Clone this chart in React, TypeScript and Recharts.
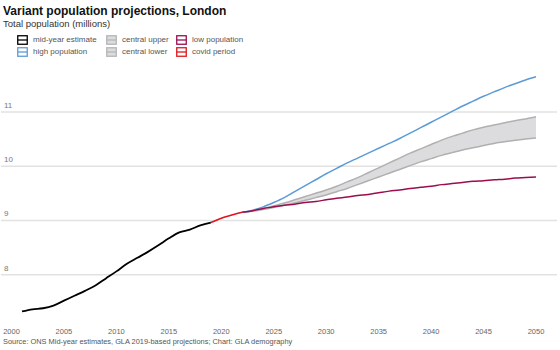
import React from "react";
import { ComposedChart, Line, Area, XAxis, YAxis, CartesianGrid } from "recharts";

const estimateYears = [2001, 2002, 2003, 2004, 2005, 2006, 2007, 2008, 2009, 2010, 2011, 2012, 2013, 2014, 2015, 2016, 2017, 2018, 2019];
const estimate = [7.32, 7.36, 7.38, 7.43, 7.52, 7.61, 7.7, 7.8, 7.93, 8.06, 8.2, 8.31, 8.42, 8.54, 8.67, 8.78, 8.83, 8.91, 8.96];

const covidYears = [2019, 2020, 2021, 2022];
const covid = [8.96, 9.04, 9.1, 9.15];

const projYears = [
  2022, 2023, 2024, 2025, 2026, 2027, 2028, 2029, 2030, 2031, 2032, 2033, 2034, 2035, 2036,
  2037, 2038, 2039, 2040, 2041, 2042, 2043, 2044, 2045, 2046, 2047, 2048, 2049, 2050,
];
const high = [
  9.15, 9.19, 9.25, 9.33, 9.42, 9.53, 9.64, 9.75, 9.86, 9.96, 10.06, 10.15, 10.24, 10.33, 10.42,
  10.51, 10.61, 10.71, 10.81, 10.91, 11.01, 11.11, 11.2, 11.29, 11.37, 11.45, 11.52, 11.59, 11.65,
];
const centralUpper = [
  9.15, 9.18, 9.22, 9.27, 9.32, 9.38, 9.44, 9.5, 9.56, 9.63, 9.71, 9.79, 9.88, 9.97, 10.06,
  10.15, 10.24, 10.32, 10.4, 10.48, 10.55, 10.61, 10.67, 10.72, 10.76, 10.8, 10.84, 10.87, 10.91,
];
const centralLower = [
  9.15, 9.17, 9.2, 9.24, 9.28, 9.32, 9.37, 9.42, 9.47, 9.53, 9.59, 9.66, 9.73, 9.8, 9.87,
  9.94, 10.01, 10.08, 10.14, 10.2, 10.25, 10.3, 10.34, 10.38, 10.42, 10.45, 10.48, 10.5, 10.52,
];
const low = [
  9.15, 9.18, 9.22, 9.25, 9.28, 9.3, 9.33, 9.35, 9.38, 9.41, 9.43, 9.46, 9.48, 9.51, 9.54,
  9.56, 9.59, 9.61, 9.63, 9.66, 9.68, 9.7, 9.72, 9.73, 9.75, 9.76, 9.78, 9.79, 9.8,
];

const xTicks = [2000, 2005, 2010, 2015, 2020, 2025, 2030, 2035, 2040, 2045, 2050];
const yTicks = [8, 9, 10, 11];

const legendItems = [
  { label: "mid-year estimate", color: "#000000", fill: "none", x: 17, y: 35 },
  { label: "high population", color: "#5b9bd8", fill: "none", x: 17, y: 47 },
  { label: "central upper", color: "#b5b5b5", fill: "#dcdcde", x: 106, y: 35 },
  { label: "central lower", color: "#b5b5b5", fill: "#dcdcde", x: 106, y: 47 },
  { label: "low population", color: "#9b0d4f", fill: "none", x: 176, y: 35 },
  { label: "covid period", color: "#e0141e", fill: "none", x: 176, y: 47 },
];

type Row = { year: number; [k: string]: number };

function buildRows(): Row[] {
  const rows = new Map<number, Row>();
  const put = (years: number[], key: string, vals: number[]) => {
    years.forEach((yr, i) => {
      const r = rows.get(yr) || { year: yr };
      r[key] = vals[i];
      rows.set(yr, r);
    });
  };
  put(estimateYears, "estimate", estimate);
  put(covidYears, "covid", covid);
  put(projYears, "high", high);
  put(projYears, "upper", centralUpper);
  put(projYears, "lower", centralLower);
  put(projYears, "low", low);
  return Array.from(rows.values()).sort((a, b) => a.year - b.year);
}

const data = buildRows();
const font = "'Liberation Sans', Arial, sans-serif";

function YTick({ y, payload }: any) {
  return (
    <text x={4} y={y - 4} fontSize={8} fill="#777" fontFamily={font}>
      {payload.value}
    </text>
  );
}

function XTick({ x, y, payload }: any) {
  return (
    <text x={x} y={y + 8} textAnchor="middle" fontSize={7.5} fill="#666" fontFamily={font}>
      {payload.value}
    </text>
  );
}

function Swatch({ color, fill }: { color: string; fill: string }) {
  return (
    <svg width={11} height={10} style={{ display: "block" }}>
      <rect x={0.75} y={0.75} width={9.5} height={8.5} fill={fill} stroke={color} strokeWidth={1.3} />
      <line x1={0.75} x2={10.25} y1={5} y2={5} stroke={color} strokeWidth={1.3} />
    </svg>
  );
}

export default function App() {
  return (
    <div style={{ position: "absolute", left: 0, top: 0, width: 560, height: 350, background: "#fff", fontFamily: font }}>
      <div style={{ position: "absolute", left: 3, top: 5, fontSize: 12, fontWeight: "bold", color: "#111", lineHeight: "13px" }}>
        Variant population projections, London
      </div>
      <div style={{ position: "absolute", left: 3, top: 19, fontSize: 9.5, color: "#333", lineHeight: "10px" }}>
        Total population (millions)
      </div>
      {legendItems.map((it) => (
        <div key={it.label} style={{ position: "absolute", left: it.x, top: it.y, display: "flex", alignItems: "center" }}>
          <Swatch color={it.color} fill={it.fill} />
          <span style={{ marginLeft: 5, fontSize: 8, color: "#555", lineHeight: "10px" }}>{it.label}</span>
        </div>
      ))}
      <ComposedChart width={560} height={350} data={data} margin={{ top: 68.6, right: 3, bottom: 14, left: 0 }}>
        <CartesianGrid horizontal vertical={false} horizontalValues={yTicks} stroke="#e2e2e2" strokeWidth={1.5} />
        <XAxis
          dataKey="year"
          type="number"
          domain={[2000, 2050]}
          ticks={xTicks}
          interval={0}
          padding={{ left: 10.5, right: 21 }}
          axisLine={false}
          tickLine={false}
          height={18}
          tick={<XTick />}
        />
        <YAxis
          type="number"
          domain={[7.2, 11.8]}
          ticks={yTicks}
          interval={0}
          width={1}
          axisLine={false}
          tickLine={false}
          tick={<YTick />}
        />
        <Area
          type="monotone"
          dataKey={(d: any) => (d.upper != null ? [d.lower, d.upper] : null)}
          stroke="none"
          fill="#dcdcde"
          fillOpacity={1}
          isAnimationActive={false}
          connectNulls={false}
        />
        <Line type="monotone" dataKey="upper" stroke="#b0b0b0" strokeWidth={1.5} dot={false} isAnimationActive={false} />
        <Line type="monotone" dataKey="lower" stroke="#b0b0b0" strokeWidth={1.5} dot={false} isAnimationActive={false} />
        <Line type="monotone" dataKey="high" stroke="#5b9bd8" strokeWidth={1.5} dot={false} isAnimationActive={false} />
        <Line type="monotone" dataKey="low" stroke="#9b0d4f" strokeWidth={1.5} dot={false} isAnimationActive={false} />
        <Line type="monotone" dataKey="covid" stroke="#e0141e" strokeWidth={1.7} dot={false} isAnimationActive={false} />
        <Line type="monotone" dataKey="estimate" stroke="#000000" strokeWidth={1.8} dot={false} isAnimationActive={false} />
      </ComposedChart>
      <div style={{ position: "absolute", left: 3, top: 337, fontSize: 7.4, color: "#555", lineHeight: "10px" }}>
        Source: ONS Mid-year estimates, GLA 2019-based projections; Chart: GLA demography
      </div>
    </div>
  );
}
